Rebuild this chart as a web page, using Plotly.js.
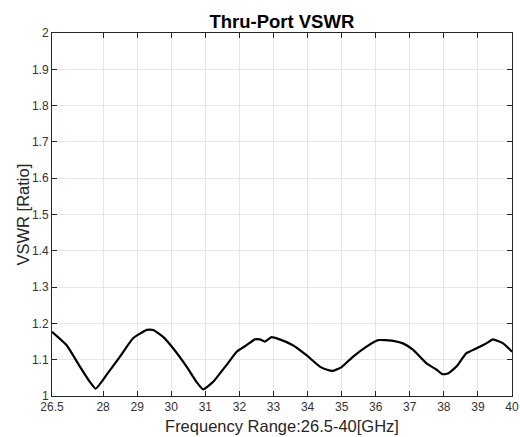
<!DOCTYPE html>
<html><head><meta charset="utf-8">
<script src="https://cdn.plot.ly/plotly-3.0.1.min.js"></script>
<style>html,body{margin:0;padding:0;background:#fff}#chart{width:520px;height:437px}</style>
</head><body><div id="chart"></div>
<script>
const freqGHz = [26.5,26.93,27.32,27.61,27.78,28.1,28.49,28.88,29.28,29.47,29.76,30.06,30.45,30.74,30.94,31.23,31.62,31.92,32.21,32.45,32.6,32.75,32.94,33.18,33.57,33.96,34.36,34.55,34.75,34.99,35.33,35.73,36.07,36.51,36.8,37.1,37.49,37.78,37.96,38.12,38.37,38.66,38.95,39.25,39.44,39.74,40];
const vswr = [1.177,1.14,1.081,1.039,1.02,1.058,1.108,1.159,1.182,1.182,1.163,1.131,1.081,1.039,1.018,1.039,1.085,1.122,1.14,1.156,1.156,1.15,1.162,1.156,1.14,1.113,1.081,1.073,1.069,1.079,1.108,1.136,1.154,1.152,1.145,1.127,1.09,1.073,1.06,1.062,1.081,1.118,1.131,1.145,1.156,1.145,1.122];
const xTicks = [26.5,28,29,30,31,32,33,34,35,36,37,38,39,40];
const yTicks = [1,1.1,1.2,1.3,1.4,1.5,1.6,1.7,1.8,1.9,2];

const axisCommon = {
  showline: true, mirror: 'ticks', linecolor: '#262626', linewidth: 1,
  ticks: 'inside', ticklen: 5, tickcolor: '#262626',
  showgrid: true, gridcolor: '#e6e6e6', gridwidth: 1, zeroline: false,
  tickfont: {family: 'Liberation Sans, Arial, sans-serif', size: 12, color: '#333333'}
};
Plotly.newPlot('chart', [{
  x: freqGHz, y: vswr, type: 'scatter', mode: 'lines',
  line: {color: '#000', width: 2.2, shape: 'spline', smoothing: 0.4}
}], {
  width: 520, height: 437,
  margin: {l: 52, r: 8, t: 33, b: 41},
  paper_bgcolor: '#fff', plot_bgcolor: '#fff', showlegend: false,
  title: {text: '<b>Thru-Port VSWR</b>', x: 0.542, xanchor: 'center', y: 0.95, yanchor: 'middle',
    font: {family: 'Liberation Sans, Arial, sans-serif', size: 18.5, color: '#000'}},
  xaxis: Object.assign({}, axisCommon, {
    range: [26.5, 40], tickvals: xTicks, ticktext: xTicks.map(String),
    title: {text: 'Frequency Range:26.5-40[GHz]', standoff: 7,
      font: {family: 'Liberation Sans, Arial, sans-serif', size: 16.5, color: '#262626'}}
  }),
  yaxis: Object.assign({}, axisCommon, {
    range: [1, 2], tickvals: yTicks, ticktext: yTicks.map(String)
  }),
  annotations: [{
    text: 'VSWR [Ratio]', xref: 'paper', yref: 'paper', x: 0, y: 0.5,
    xanchor: 'center', yanchor: 'middle', xshift: -30, textangle: -90, showarrow: false,
    font: {family: 'Liberation Sans, Arial, sans-serif', size: 16.5, color: '#262626'}
  }]
}, {staticPlot: true, displayModeBar: false});
</script></body></html>
